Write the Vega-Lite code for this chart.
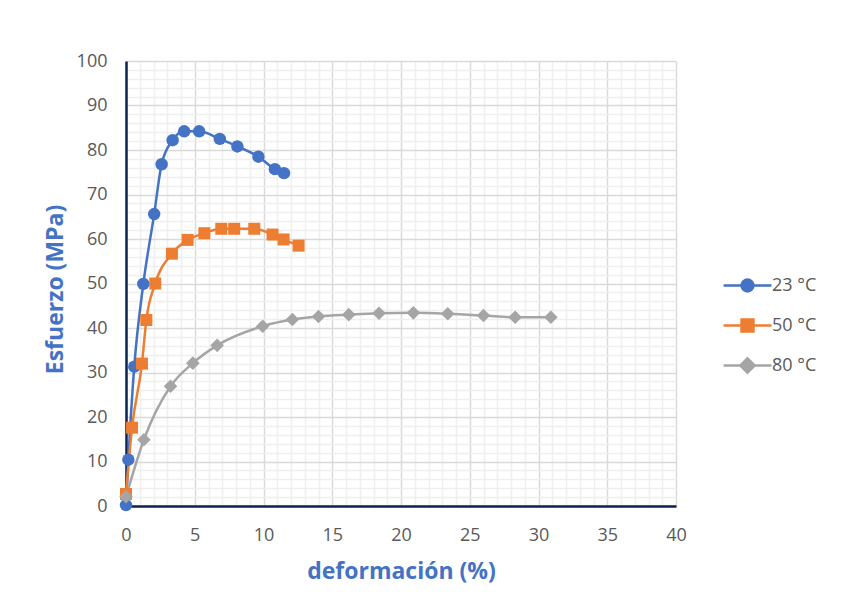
{
  "$schema": "https://vega.github.io/schema/vega-lite/v6.json",
  "width": 550,
  "height": 445,
  "autosize": {"type": "none"},
  "padding": {"left": 126, "top": 61, "right": 172, "bottom": 110},
  "background": "white",
  "config": {"view": {"stroke": null}, "font": "Open Sans"},
  "data": {
    "values": [
      {"series": "23 °C", "x": 0.0, "y": 0.2},
      {"series": "23 °C", "x": 0.17, "y": 10.4},
      {"series": "23 °C", "x": 0.6, "y": 31.3},
      {"series": "23 °C", "x": 1.26, "y": 49.9},
      {"series": "23 °C", "x": 2.05, "y": 65.6},
      {"series": "23 °C", "x": 2.59, "y": 76.8},
      {"series": "23 °C", "x": 3.39, "y": 82.2},
      {"series": "23 °C", "x": 4.23, "y": 84.2},
      {"series": "23 °C", "x": 5.32, "y": 84.2},
      {"series": "23 °C", "x": 6.82, "y": 82.5},
      {"series": "23 °C", "x": 8.1, "y": 80.8},
      {"series": "23 °C", "x": 9.63, "y": 78.5},
      {"series": "23 °C", "x": 10.83, "y": 75.7},
      {"series": "23 °C", "x": 11.49, "y": 74.8},
      {"series": "50 °C", "x": 0.0, "y": 2.7},
      {"series": "50 °C", "x": 0.44, "y": 17.6},
      {"series": "50 °C", "x": 1.16, "y": 32.0},
      {"series": "50 °C", "x": 1.48, "y": 41.8},
      {"series": "50 °C", "x": 2.13, "y": 50.0},
      {"series": "50 °C", "x": 3.34, "y": 56.7},
      {"series": "50 °C", "x": 4.48, "y": 59.8},
      {"series": "50 °C", "x": 5.7, "y": 61.3},
      {"series": "50 °C", "x": 6.93, "y": 62.3},
      {"series": "50 °C", "x": 7.87, "y": 62.3},
      {"series": "50 °C", "x": 9.33, "y": 62.3},
      {"series": "50 °C", "x": 10.66, "y": 61.0},
      {"series": "50 °C", "x": 11.46, "y": 59.9},
      {"series": "50 °C", "x": 12.55, "y": 58.5},
      {"series": "80 °C", "x": 0.0, "y": 2.1},
      {"series": "80 °C", "x": 1.3, "y": 14.9},
      {"series": "80 °C", "x": 3.24, "y": 26.9},
      {"series": "80 °C", "x": 4.86, "y": 32.1},
      {"series": "80 °C", "x": 6.63, "y": 36.1},
      {"series": "80 °C", "x": 9.94, "y": 40.4},
      {"series": "80 °C", "x": 12.1, "y": 41.9},
      {"series": "80 °C", "x": 14.0, "y": 42.6},
      {"series": "80 °C", "x": 16.2, "y": 43.0},
      {"series": "80 °C", "x": 18.4, "y": 43.3},
      {"series": "80 °C", "x": 20.9, "y": 43.4},
      {"series": "80 °C", "x": 23.4, "y": 43.2},
      {"series": "80 °C", "x": 26.0, "y": 42.8},
      {"series": "80 °C", "x": 28.3, "y": 42.4},
      {"series": "80 °C", "x": 30.9, "y": 42.4}
    ]
  },
  "encoding": {
    "x": {
      "field": "x",
      "type": "quantitative",
      "scale": {"domain": [0, 40], "nice": false, "zero": false},
      "axis": {
        "title": "deformación (%)",
        "titleFont": "Open Sans",
        "titleFontSize": 23,
        "titleFontWeight": "bold",
        "titleColor": "#4472C4",
        "titleBaseline": "alphabetic",
        "titleX": 275,
        "titleY": 72,
        "values": [1,2,3,4,6,7,8,9,11,12,13,14,16,17,18,19,21,22,23,24,26,27,28,29,31,32,33,34,36,37,38,39,0,5,10,15,20,25,30,35,40],
        "labelExpr": "datum.value % 5 === 0 ? datum.label : ''",
        "labelOverlap": false,
        "labelFlush": false,
        "labelBound": false,
        "labelAlign": "center",
        "labelFont": "Open Sans",
        "labelFontSize": 18,
        "labelColor": "#595959",
        "labelPadding": 20,
        "ticks": false,
        "grid": true,
        "gridColor": {"condition": {"test": "datum.value % 5 === 0", "value": "#D9D9D9"}, "value": "#EFEFEF"},
        "gridWidth": 1.5,
        "domainColor": "#0C2352",
        "domainWidth": 2.5
      }
    },
    "y": {
      "field": "y",
      "type": "quantitative",
      "scale": {"domain": [0, 100], "nice": false, "zero": false},
      "axis": {
        "title": "Esfuerzo (MPa)",
        "titleFont": "Open Sans",
        "titleFontSize": 23,
        "titleFontWeight": "bold",
        "titleColor": "#4472C4",
        "titleBaseline": "alphabetic",
        "titleAngle": -90,
        "titleX": -64,
        "titleY": 228,
        "values": [2,4,6,8,12,14,16,18,22,24,26,28,32,34,36,38,42,44,46,48,52,54,56,58,62,64,66,68,72,74,76,78,82,84,86,88,92,94,96,98,0,10,20,30,40,50,60,70,80,90,100],
        "labelExpr": "datum.value % 10 === 0 ? datum.label : ''",
        "labelOverlap": false,
        "labelFlush": false,
        "labelBound": false,
        "labelFont": "Open Sans",
        "labelFontSize": 18,
        "labelColor": "#595959",
        "labelPadding": 19,
        "ticks": false,
        "grid": true,
        "gridColor": {"condition": {"test": "datum.value % 10 === 0", "value": "#D9D9D9"}, "value": "#EFEFEF"},
        "gridWidth": 1.5,
        "domainColor": "#0C2352",
        "domainWidth": 2.5
      }
    },
    "color": {
      "field": "series",
      "type": "nominal",
      "scale": {"domain": ["23 °C", "50 °C", "80 °C"], "range": ["#4472C4", "#ED7D31", "#A5A5A5"]},
      "legend": {
        "title": null,
        "orient": "none",
        "legendX": 602,
        "legendY": 205,
        "padding": 0,
        "symbolSize": 1296,
        "symbolStrokeWidth": 2.5,
        "labelFont": "Open Sans",
        "labelFontSize": 18,
        "labelColor": "#595959",
        "labelOffset": 5,
        "rowPadding": 9,
        "encode": {
          "symbols": {
            "update": {
              "shape": {"signal": "datum.value === '23 °C' ? 'M-1.33,0H1.33M-0.33,0A0.33,0.33,0,1,0,0.33,0A0.33,0.33,0,1,0,-0.33,0Z' : datum.value === '50 °C' ? 'M-1.33,0H1.33M-0.33,-0.33H0.33V0.33H-0.33Z' : 'M-1.33,0H1.33M0,-0.4L0.4,0L0,0.4L-0.4,0Z'"},
              "size": {"value": 1296},
              "fill": {"scale": "color", "field": "value"},
              "stroke": {"scale": "color", "field": "value"},
              "strokeWidth": {"value": 2.5},
              "opacity": {"value": 1}
            }
          }
        }
      }
    }
  },
  "layer": [
    {"mark": {"type": "line", "interpolate": "monotone", "strokeWidth": 2.5}},
    {
      "mark": {"type": "point", "filled": true, "opacity": 1},
      "encoding": {
        "shape": {
          "condition": [
            {"test": "datum.series === '50 °C'", "value": "square"},
            {"test": "datum.series === '80 °C'", "value": "diamond"}
          ],
          "value": "circle"
        },
        "size": {
          "condition": [
            {"test": "datum.series === '50 °C'", "value": 144},
            {"test": "datum.series === '80 °C'", "value": 185}
          ],
          "value": 155
        }
      }
    }
  ]
}
